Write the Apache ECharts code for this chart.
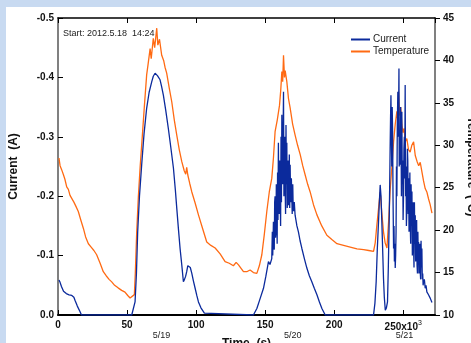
<!DOCTYPE html>
<html>
<head>
<meta charset="utf-8">
<script src="https://cdn.jsdelivr.net/npm/echarts@6/dist/echarts.min.js"></script>
<style>
html,body{margin:0;padding:0;background:#c8daf1;}
#c{width:471px;height:343px;}
</style>
</head>
<body>
<div id="c"></div>
<script>
// ---- data (time in 10^3 s) ----
var timeCurrent = [0.7,1.5,2.5,4,6,8,10,11.5,12.3,14,15.9,17,53.4,55.8,56.8,57.7,59,60.6,62.3,64.2,66,67.9,69,70.3,72,73.9,75,76.3,78,79.9,81.7,83.6,85,86,87.2,88.4,89.6,90.8,91.6,92.4,93.2,94,94.9,95.8,96.9,98,99.3,100.5,101.7,103.5,106,107,
141.5,144,146,148.8,150.5,152.4,153.5,154.8,155.2,155.5,156,156.3,156.6,156.9,157.2,157.5,157.8,158.1,158.4,158.7,159,159.3,159.6,159.9,160.2,160.5,160.9,161.2,161.5,161.8,162.1,162.4,162.7,163,163.3,163.6,163.9,164.2,164.5,164.8,165.1,165.4,165.7,166,166.3,166.6,166.9,167.2,167.5,167.8,168.1,168.4,168.7,169,169.3,169.6,170,170.3,170.6,171.1,171.7,173,174.1,175.3,176.6,178.4,180.2,182,183.8,185.6,187.5,189.3,191.1,193.5,
228.5,229.5,230.4,231.2,232.1,232.7,233.3,233.9,234.5,235.1,235.7,236.3,237,237.8,238.6,239.2,239.9,240.2,240.5,240.8,241.1,241.4,241.7,242,242.3,242.6,243,243.3,243.6,243.9,244.2,244.5,244.8,245.1,245.4,245.7,246.1,246.5,246.9,247.1,247.4,247.8,248.1,248.4,248.7,249,249.3,249.6,249.9,250.2,250.5,250.8,251.1,251.4,251.7,252,252.3,252.7,253,253.3,253.6,253.9,254.2,254.5,254.8,255,255.4,255.7,256,256.3,256.6,256.9,257.2,257.5,257.8,258.1,258.4,258.7,259,259.4,259.7,260,260.3,260.6,260.9,261.1,261.4,261.7,262,262.3,262.6,262.9,263.2,263.5,263.8,264.1,264.4,264.7,265.3,265.9,266.5,267.1,267.7,268.3,269,269.6,270.2,270.8];
var current = [-0.059,-0.055,-0.048,-0.040,-0.036,-0.034,-0.033,-0.030,-0.025,-0.015,-0.006,0,0,-0.022,-0.07,-0.14,-0.2,-0.253,-0.305,-0.348,-0.375,-0.393,-0.402,-0.407,-0.403,-0.396,-0.385,-0.37,-0.345,-0.314,-0.282,-0.247,-0.21,-0.18,-0.145,-0.112,-0.085,-0.056,-0.06,-0.065,-0.073,-0.083,-0.084,-0.08,-0.07,-0.058,-0.045,-0.033,-0.022,-0.012,-0.003,0,
0,-0.011,-0.025,-0.045,-0.065,-0.09,-0.085,-0.095,-0.14,-0.1,-0.157,-0.12,-0.11,-0.19,-0.2,-0.13,-0.14,-0.22,-0.18,-0.12,-0.24,-0.16,-0.29,-0.2,-0.17,-0.26,-0.2,-0.15,-0.3,-0.19,-0.337,-0.25,-0.22,-0.3,-0.376,-0.2,-0.26,-0.3,-0.213,-0.17,-0.32,-0.22,-0.29,-0.18,-0.2,-0.26,-0.185,-0.21,-0.27,-0.18,-0.253,-0.2,-0.19,-0.23,-0.2,-0.17,-0.22,-0.18,-0.175,-0.19,-0.168,-0.15,-0.14,-0.125,-0.112,-0.095,-0.079,-0.066,-0.056,-0.045,-0.034,-0.022,-0.011,0,
0,-0.02,-0.056,-0.11,-0.157,-0.19,-0.219,-0.2,-0.157,-0.11,-0.062,-0.03,-0.008,-0.012,-0.022,-0.08,-0.168,-0.22,-0.28,-0.33,-0.37,-0.3,-0.25,-0.35,-0.31,-0.2,-0.112,-0.15,-0.09,-0.12,-0.079,-0.1,-0.14,-0.25,-0.2,-0.32,-0.376,-0.3,-0.415,-0.25,-0.3,-0.253,-0.35,-0.3,-0.2,-0.342,-0.22,-0.26,-0.16,-0.2,-0.28,-0.3,-0.23,-0.387,-0.2,-0.25,-0.15,-0.185,-0.28,-0.26,-0.17,-0.23,-0.14,-0.18,-0.24,-0.157,-0.12,-0.22,-0.15,-0.208,-0.1,-0.14,-0.19,-0.112,-0.08,-0.19,-0.12,-0.168,-0.09,-0.1,-0.16,-0.084,-0.07,-0.14,-0.09,-0.123,-0.07,-0.09,-0.12,-0.073,-0.06,-0.125,-0.08,-0.112,-0.06,-0.07,-0.05,-0.056,-0.06,-0.045,-0.05,-0.039,-0.042,-0.034,-0.035,-0.028,-0.03,-0.021];
var timeTemp = [0.7,1.5,2.7,4,5,6.3,7.5,8.7,10,11.5,13,14.7,16.5,18.4,20,22,24,26,28,30.5,32.8,35,37,38.9,41,43.5,46.1,48.5,50.5,52.2,53.5,55.3,56,57,58.2,59.5,61.1,62.5,64.2,65.2,66.7,67.5,69,70,71.5,72.3,73.5,75.1,76.5,77.5,78.7,80.5,82.4,84.2,86,87.8,89.6,91.4,92.5,93.2,94,95.4,96.9,99.3,101.7,104.7,107.7,110.7,113.8,117.4,121,124,127,129,130.7,132,134.3,136.7,139.1,141.5,144,145.8,147.6,149.4,151.2,153,154.8,156,157.2,158.8,160.4,161.3,162.1,162.7,163.3,164,164.5,165.7,166.9,168.1,169.9,171.7,173.5,175.4,177.2,179,180.8,182.6,185,187.5,191,194.7,198.3,202,206.8,211.6,216.5,221.3,225,228.5,229.7,230.9,232.1,233.3,234.5,235.7,236.9,238.2,239.4,240.6,241.8,243,244.2,245.4,246,246.6,247.4,248.2,249,249.8,250.6,251.4,252.6,253.8,255,256.2,257.5,258.7,260,261.2,262.3,263.5,264.7,265.9,267.1,268.3,269.5,270.8];
var temperature = [28.5,27.6,27.1,26.5,26.0,25.1,24.8,24.1,24.0,23.3,22.8,22.2,21.2,20.2,19.2,18.4,18.0,17.6,17.1,16.1,15.1,14.6,14.2,13.9,13.5,13.2,12.9,12.7,12.3,12.0,12.1,12.4,15,19.8,24,27.5,31.2,34.5,38.3,39.5,41.4,40.2,42.6,41.5,43.8,41.8,42.5,40.6,40.0,39.2,38.5,36.8,35.1,33.0,31.2,29.5,28.1,27.0,26.6,27.4,26.5,25.5,24.5,23.2,21.8,20.2,18.6,18.2,17.9,17.2,16.3,16.1,15.8,16.2,15.9,16.1,15.1,15.1,15.3,15.0,14.9,15.8,17.1,19.5,22.2,24.5,26.1,28.5,31.6,33.0,34.7,36.5,38.7,37.5,40.6,38,38.8,37.5,35.5,34.4,32.5,31.2,30.0,28.9,27.6,26.5,25.4,24.5,23.0,21.8,20.5,19.4,18.9,18.4,18.2,18.0,17.8,17.7,17.6,17.5,18.5,20.6,22.5,24.5,22,19.8,18.5,17.9,21,24.9,27.5,30.4,32.5,34,33,36.3,33.5,34.5,32.4,31.5,32,30.4,30.8,29.5,29.2,30.0,30.4,28.8,28.1,27.6,28.0,26.9,25.8,24.9,24.5,23.7,23.0,22.0];

var xTickValues = [0, 50, 100, 150, 200, 250];
var dateLabelValues = [75, 170, 251];
var dateLabels = ['5/19', '5/20', '5/21'];
var seriesNames = ['Current', 'Temperature'];
var startText = 'Start: 2012.5.18  14:24';

function pairs(xs, ys) { return xs.map(function (x, i) { return [x, ys[i]]; }); }

var chart = echarts.init(document.getElementById('c'), null, {renderer: 'canvas'});
var bold = {fontFamily: 'Liberation Sans, Arial, sans-serif', fontWeight: 'bold', color: '#111'};
chart.setOption({
  animation: false,
  backgroundColor: 'transparent',
  graphic: [{type: 'rect', left: 6, top: 7, shape: {width: 465, height: 336}, style: {fill: '#ffffff'}, z: -10}],
  title: {text: startText, left: 58, top: 24, textStyle: {fontFamily: 'Liberation Sans, Arial, sans-serif', fontSize: 9, fontWeight: 'normal', color: '#222'}},
  legend: {
    data: seriesNames, orient: 'vertical', left: 346, top: 29, itemWidth: 19, itemHeight: 2, itemGap: 1,
    icon: 'rect',
    textStyle: {fontFamily: 'Liberation Sans, Arial, sans-serif', fontSize: 10, color: '#222', lineHeight: 11, padding: [0,0,0,-2]}
  },
  grid: {left: 58, right: 36, top: 18, bottom: 28, containLabel: false, outerBoundsMode: 'none'},
  xAxis: [
    {type: 'value', position: 'bottom', min: 0, max: 273, interval: 50,
     name: 'Time  (s)', nameLocation: 'middle', nameGap: 23,
     nameTextStyle: Object.assign({fontSize: 12}, bold),
     axisLine: {onZero: false, lineStyle: {color: '#000', width: 2}},
     axisTick: {inside: true, length: 5, lineStyle: {color: '#000', width: 1}},
     splitLine: {show: false},
     axisLabel: {margin: 5, showMaxLabel: false,
       formatter: function (v) { return v === 250 ? '{b|250x10}{s|3}' : '{b|' + v + '}'; },
       rich: {b: Object.assign({fontSize: 10}, bold), s: {fontFamily: 'Liberation Sans, Arial, sans-serif', fontSize: 7, color: '#111', padding: [0,0,8,0]}}}
    },
    {type: 'value', position: 'top', min: 0, max: 273, interval: 50,
     axisLine: {onZero: false, lineStyle: {color: '#000', width: 1.5}},
     axisTick: {inside: true, length: 5, lineStyle: {color: '#000'}},
     axisLabel: {show: false}, splitLine: {show: false}},
    {type: 'value', position: 'bottom', min: 0, max: 273,
     axisLine: {show: false, onZero: false}, axisTick: {show: false}, splitLine: {show: false},
     axisLabel: {margin: 16, customValues: dateLabelValues,
       formatter: function (v) { var i = dateLabelValues.indexOf(v); return i >= 0 ? dateLabels[i] : ''; },
       fontFamily: 'Liberation Sans, Arial, sans-serif', fontSize: 9, color: '#222'}}
  ],
  yAxis: [
    {type: 'value', position: 'left', min: -0.5, max: 0, interval: 0.1, inverse: true,
     name: 'Current  (A)', nameLocation: 'middle', nameGap: 38, nameRotate: 90,
     nameTextStyle: Object.assign({fontSize: 12}, bold),
     axisLine: {show: true, onZero: false, lineStyle: {color: '#808080', width: 2}},
     axisTick: {show: true, inside: true, length: 5, lineStyle: {color: '#000'}},
     splitLine: {show: false},
     axisLabel: Object.assign({margin: 4, fontSize: 10, formatter: function (v) { return (Math.abs(v) < 1e-9 ? 0 : v).toFixed(1); }}, bold)},
    {type: 'value', position: 'right', min: 10, max: 45, interval: 5,
     name: 'Temperature  (°C)', nameLocation: 'middle', nameGap: 28, nameRotate: -90,
     nameTextStyle: Object.assign({fontSize: 12}, bold),
     axisLine: {show: true, onZero: false, lineStyle: {color: '#808080', width: 2}},
     axisTick: {show: true, inside: false, length: 5, lineStyle: {color: '#000'}},
     splitLine: {show: false},
     axisLabel: Object.assign({margin: 8, fontSize: 10}, bold)}
  ],
  series: [
    {name: seriesNames[1], type: 'line', xAxisIndex: 0, yAxisIndex: 1, data: pairs(timeTemp, temperature),
     showSymbol: false, symbol: 'none', lineStyle: {color: '#ff6a13', width: 1.3}, itemStyle: {color: '#ff6a13'}, z: 2},
    {name: seriesNames[0], type: 'line', xAxisIndex: 0, yAxisIndex: 0, data: pairs(timeCurrent, current),
     showSymbol: false, symbol: 'none', lineStyle: {color: '#0b2a9c', width: 1.3}, itemStyle: {color: '#0b2a9c'}, z: 3}
  ]
});
</script>
</body>
</html>
